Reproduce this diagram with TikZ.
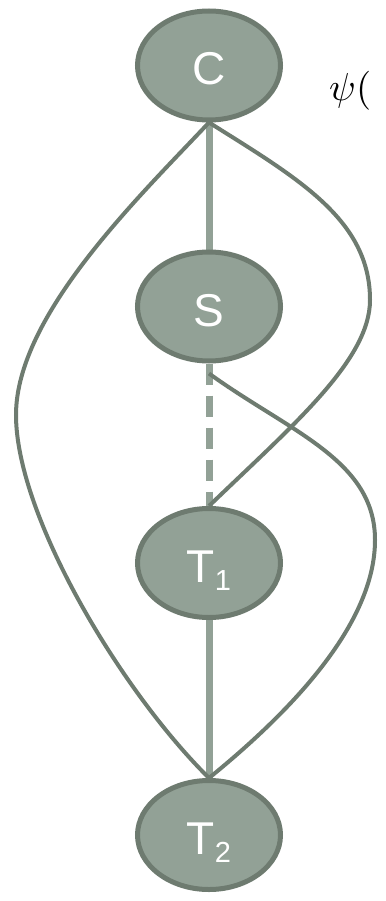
\documentclass[tikz,border=0pt]{standalone}
\usepackage{fontspec}
\newfontfamily\arialfont{Liberation Sans}
\usetikzlibrary{shapes.geometric,backgrounds}
\definecolor{nodefill}{RGB}{146,161,150}
\definecolor{nodeline}{RGB}{110,123,112}
\tikzset{
  varnode/.style={ellipse, draw=nodeline, fill=nodefill, line width=5pt,
    minimum width=143pt, minimum height=109pt, text=white,
    text height=39pt, text depth=0pt, inner sep=0pt,
    font=\arialfont\fontsize{46}{46}\selectfont},
  straightedge/.style={draw=nodefill, line width=7pt},
  dashededge/.style={draw=nodefill, line width=7pt, dash pattern=on 21pt off 11pt},
  curveedge/.style={draw=nodeline, line width=4pt}
}
\newcommand{\subidx}[1]{\raisebox{-8pt}{\fontsize{29}{29}\selectfont #1}}
\begin{document}
\begin{tikzpicture}[x=1pt,y=-1pt]
\useasboundingbox (0,0) rectangle (385,901);
\node[varnode] (C) at (209,65.5) {C};
\node[varnode] (S) at (209,306.5) {S};
\node[varnode] (T1) at (209,563) {T\subidx{1}};
\node[varnode] (T2) at (209,835) {T\subidx{2}};
\node[anchor=base west, inner sep=0pt] (psi) at (329,101) {\scalebox{3.9}{$\psi($}};
\coordinate (s2) at ([yshift=-10pt]S.south);
\coordinate (wl) at (16,415);
\coordinate (wr1) at (370,300);
\coordinate (wr2) at (375,540);
\begin{scope}[on background layer]
\draw[straightedge] (C.south) -- (S.north);
\draw[straightedge] (T1.south) -- (T2.north);
\draw[dashededge] (S.south) -- (T1.north);
\draw[curveedge] (C.south) .. controls (140,196) and (16,315) .. (wl)
  .. controls (16,515) and (120,690) .. (T2.north);
\draw[curveedge] (C.south) .. controls (299,179) and (370,220) .. (wr1)
  .. controls (370,360) and (293,425) .. (T1.north);
\draw[curveedge] (s2) .. controls (290,432) and (375,460) .. (wr2)
  .. controls (375,625) and (289,713) .. (T2.north);
\end{scope}
\end{tikzpicture}
\end{document}
